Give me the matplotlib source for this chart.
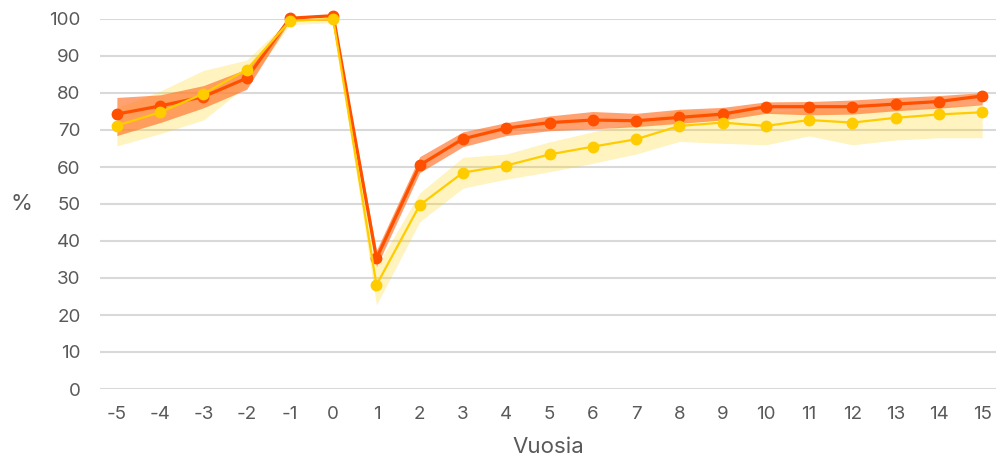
import matplotlib
matplotlib.use("Agg")
import matplotlib.pyplot as plt
import numpy as np

plt.rcParams['font.family'] = ['Inter', 'DejaVu Sans']

years = [-5, -4, -3, -2, -1, 0, 1, 2, 3, 4, 5, 6, 7, 8, 9, 10, 11, 12, 13, 14, 15]

orange = [74.3, 76.5, 79.0, 84.0, 100.2, 100.9, 35.3, 60.5, 67.6, 70.5, 72.0, 72.7, 72.5, 73.4,
          74.3, 76.3, 76.3, 76.3, 77.0, 77.7, 79.2]
orange_hi = [78.8, 79.5, 82.0, 86.5, 100.6, 100.9, 37.5, 62.8, 69.5, 72.0, 73.8, 75.0, 74.5, 75.6,
             76.1, 77.6, 77.7, 78.1, 78.8, 79.3, 80.1]
orange_lo = [68.5, 72.0, 76.0, 81.0, 99.6, 99.6, 33.0, 58.5, 65.5, 68.5, 69.8, 70.3, 70.9, 71.8,
             72.7, 74.5, 74.1, 74.3, 75.2, 75.9, 76.8]

yellow = [71.2, 74.8, 79.8, 86.3, 99.5, 100.0, 28.1, 49.7, 58.5, 60.4, 63.4, 65.5, 67.5, 71.1,
          72.0, 71.1, 72.7, 72.0, 73.3, 74.2, 74.8]
yellow_hi = [76.0, 80.5, 86.1, 88.9, 100.0, 100.0, 33.0, 53.0, 62.6, 63.5, 66.8, 69.5, 72.0, 75.6,
             75.0, 75.0, 75.5, 75.5, 76.0, 76.5, 76.8]
yellow_lo = [65.7, 69.0, 72.7, 82.0, 98.5, 99.0, 22.7, 45.2, 54.3, 56.7, 58.7, 61.0, 63.5, 66.9,
             66.4, 66.0, 68.4, 66.0, 67.3, 67.9, 67.9]

yticks = list(range(0, 101, 10))

fig = plt.figure(figsize=(9.96, 4.63), dpi=100)
ax = fig.add_axes([100 / 996, (463 - 389) / 463, (996 - 100) / 996, (389 - 19) / 463])

txt = '#595959'
ax.fill_between(years, yellow_lo, yellow_hi, color='#FFD000', alpha=0.25, lw=0, zorder=1)
ax.fill_between(years, orange_lo, orange_hi, color='#FF7A33', alpha=0.7, lw=0, zorder=2)
ax.plot(years, orange, color='#FF5000', lw=2.3, marker='o', ms=7.5, zorder=4, clip_on=False)
ax.plot(years, yellow, color='#FFCC00', lw=1.6, marker='o', ms=7.5, zorder=5, clip_on=False)

ax.set_ylim(0, 100)
ax.set_xlim(-5.39, 15.32)
ax.set_yticks(yticks)
ax.set_xticks(years)
ax.set_xticklabels([str(y) for y in years])
ax.grid(axis='y', color='#D9D9D9', lw=1.5, zorder=0)
ax.set_axisbelow(True)
for s in ax.spines.values():
    s.set_visible(False)
ax.tick_params(axis='both', length=0, labelsize=13.5, labelcolor=txt)
ax.tick_params(axis='y', pad=14)
ax.tick_params(axis='x', pad=12)
ax.set_xlabel('Vuosia', fontsize=16, color=txt, labelpad=10)
ax.set_ylabel('%', fontsize=16, color=txt, rotation=0, labelpad=20, va='center')

fig.savefig('out.png', dpi=100)
